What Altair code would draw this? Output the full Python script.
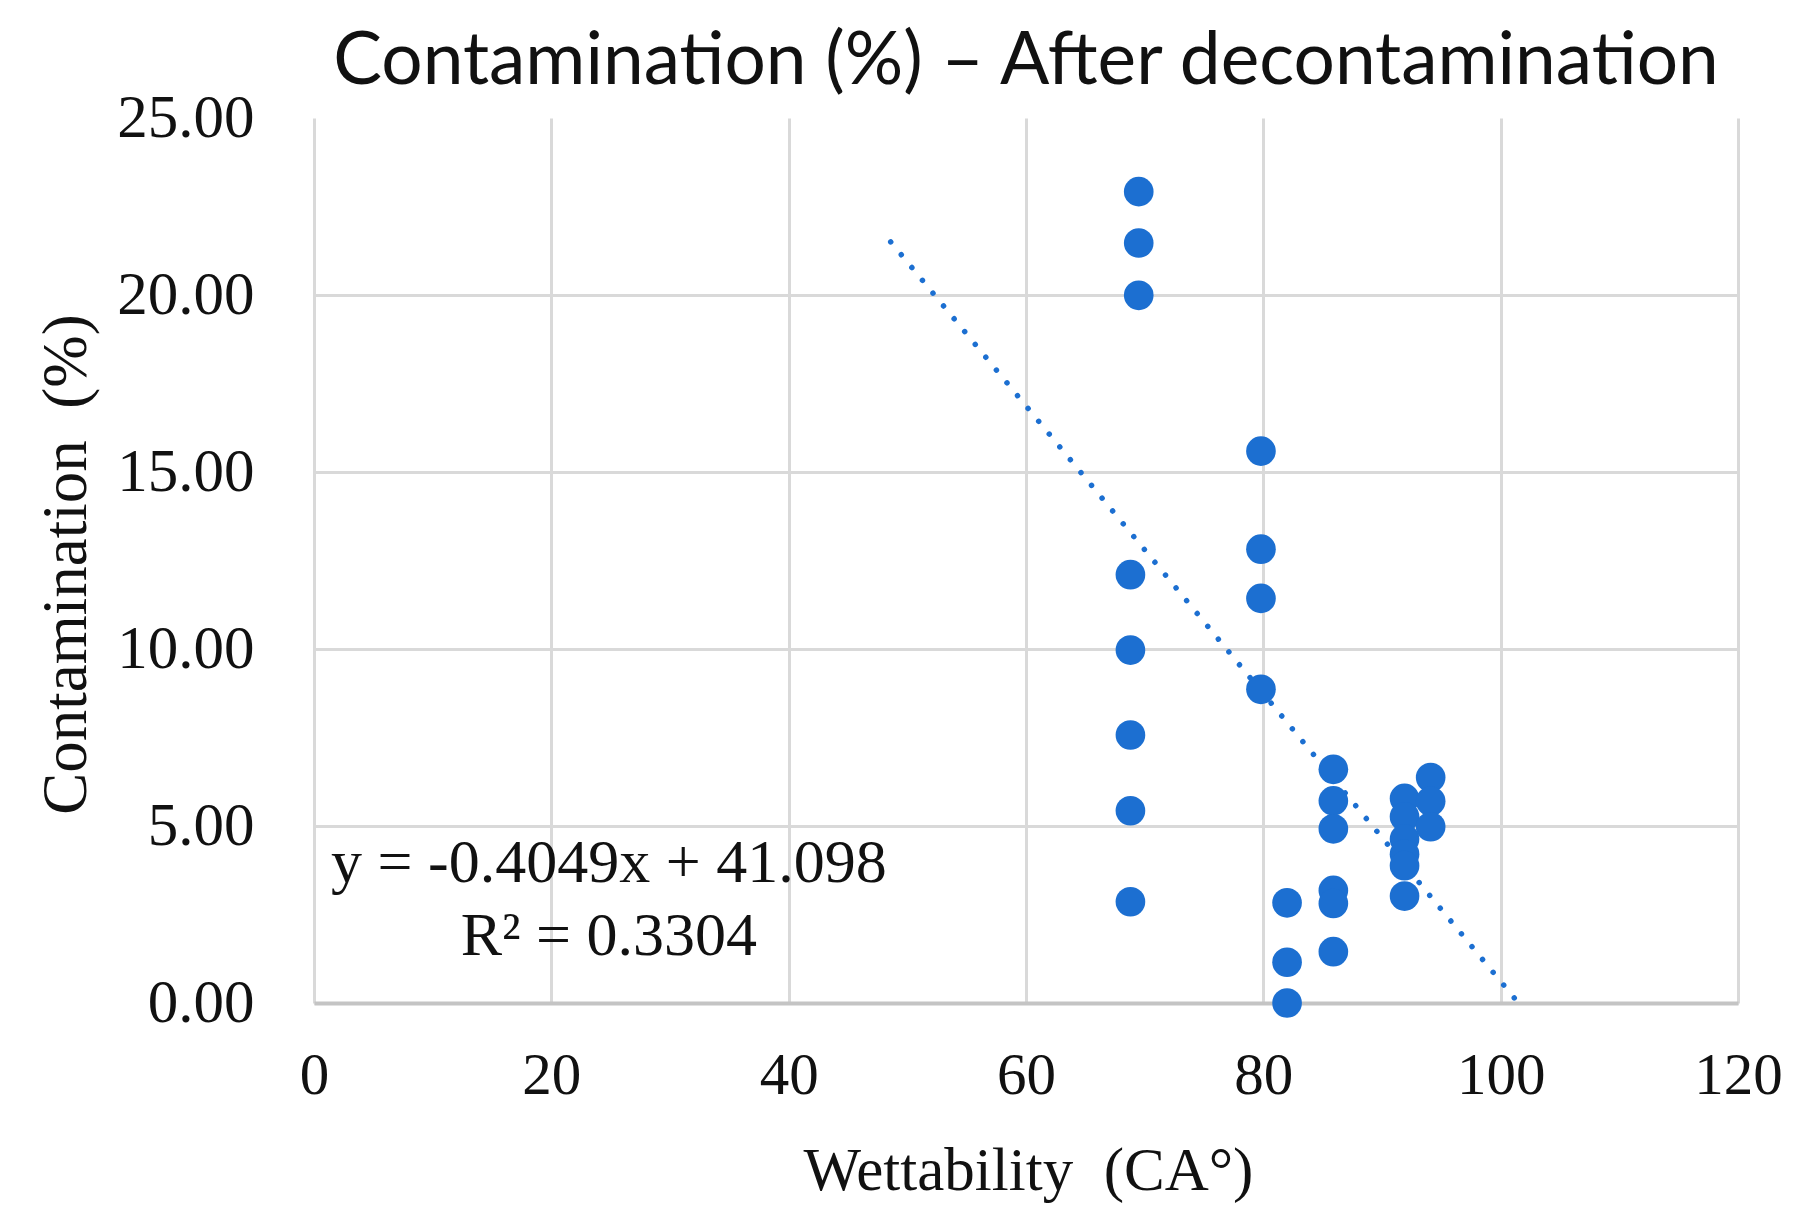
import altair as alt
import pandas as pd

# contact angle (x) and contamination after decontamination (y)
wettability = [
    69.5, 69.5, 69.5,
    68.8, 68.8, 68.8, 68.8, 68.8,
    79.8, 79.8, 79.8, 79.8,
    82.0, 82.0, 82.0,
    85.9, 85.9, 85.9, 85.9, 85.9, 85.9,
    91.9, 91.9, 91.9, 91.9, 91.9, 91.9,
    94.1, 94.1, 94.1,
]
contamination = [
    22.92, 21.47, 19.99,
    12.10, 9.97, 7.57, 5.43, 2.86,
    15.59, 12.82, 11.43, 8.86,
    2.83, 1.15, 0.0,
    6.60, 5.71, 4.92, 3.18, 2.81, 1.45,
    5.78, 5.26, 4.63, 4.20, 3.88, 3.02,
    6.37, 5.70, 4.98,
]

# dotted linear trendline end points
trend_x = [48.6, 101.5]
trend_y = [21.5, 0.0]

# trendline equation labels
eq_text = ["y = -0.4049x + 41.098", "R² = 0.3304"]
eq_x = [24.85, 24.85]
eq_y = [3.42, 1.36]

x_ticks = [0, 20, 40, 60, 80, 100, 120]
y_ticks = [0, 5, 10, 15, 20, 25]

BLUE = "#1c6fd1"
GRID = "#d9d9d9"
SERIF = "Liberation Serif"

points = pd.DataFrame({"x": wettability, "y": contamination})
trend = pd.DataFrame({"x": trend_x, "y": trend_y})
labels = pd.DataFrame({"x": eq_x, "y": eq_y, "text": eq_text})

x_enc = alt.X(
    "x:Q",
    scale=alt.Scale(domain=[0, 120], nice=False),
    axis=alt.Axis(
        values=x_ticks,
        title="Wettability \u00a0(CA°)",
        grid=True, gridColor=GRID, gridWidth=3,
        domain=True, domainColor="#c4c4c4", domainWidth=4,
        ticks=False, tickSize=0,
        labelFont=SERIF, labelFontSize=59, labelColor="#111",
        labelPadding=90, labelBaseline="alphabetic",
        labelFlush=False, labelOverlap=False, labelBound=False,
        titleFont=SERIF, titleFontSize=61, titleFontWeight="normal",
        titleColor="#111", titleBaseline="alphabetic",
        titleX=714, titleY=186, titleAlign="center",
    ),
)
y_enc = alt.Y(
    "y:Q",
    scale=alt.Scale(domain=[0, 25], nice=False),
    axis=alt.Axis(
        values=y_ticks, format=".2f",
        title="Contamination \u00a0(%)",
        grid=True, gridColor=GRID, gridWidth=3,
        gridOpacity={"condition": {"test": "datum.value === 25", "value": 0}, "value": 1},
        domain=False, ticks=False, tickSize=0,
        labelFont=SERIF, labelFontSize=61, labelColor="#111",
        labelPadding=60, labelBaseline="middle",
        labelOverlap=False, labelBound=False,
        titleFont=SERIF, titleFontSize=63, titleFontWeight="normal",
        titleColor="#111", titleAngle=270, titleBaseline="alphabetic",
        titleX=-229, titleY=446, titleAlign="center",
    ),
)

scatter = alt.Chart(points).mark_circle(size=880, color=BLUE, opacity=1).encode(
    x=x_enc, y=y_enc
)

trendline = alt.Chart(trend).mark_line(
    color=BLUE, strokeWidth=5.5, strokeCap="round", strokeDash=[0.01, 16.6]
).encode(x="x:Q", y="y:Q")

equation = alt.Chart(labels).mark_text(
    font=SERIF, fontSize=62, color="#111", align="center", baseline="alphabetic"
).encode(x="x:Q", y="y:Q", text="text:N")

chart = alt.layer(trendline, scatter, equation).properties(
    width=1424,
    height=885,
    autosize=alt.AutoSizeParams(type="none"),
    padding={"left": 306, "top": 110, "right": 69, "bottom": 219},
    background="white",
    title=alt.TitleParams(
        "Contamination (%) – After decontamination",
        font="Lato", fontSize=73, fontWeight="normal", color="#111",
        anchor="middle", offset=-12,
    ),
).configure_view(strokeWidth=0)

chart.save("out.html", embed_options={"renderer": "svg", "actions": False})
